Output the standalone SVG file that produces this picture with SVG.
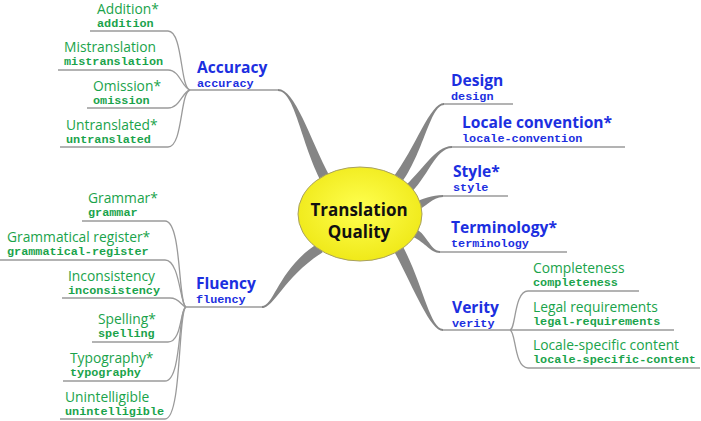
<svg xmlns="http://www.w3.org/2000/svg" width="701" height="421" viewBox="0 0 701 421">
<defs>
<radialGradient id="yg" cx="0.5" cy="0.45" r="0.6">
<stop offset="0" stop-color="#ffff50"/>
<stop offset="1" stop-color="#eee714"/>
</radialGradient>
<style>
.thin{fill:none;stroke:#9a9a9a;stroke-width:1.3}
.thick{fill:#858585;stroke:none}
.b{font-family:"Open Sans",sans-serif;font-weight:bold;font-size:15.6px;fill:#1c2fe0}
.g{font-family:"Open Sans",sans-serif;font-size:13.8px;fill:#1aa34b}
.bm{font-family:"Liberation Mono","Courier New",monospace;font-weight:bold;font-size:11.8px;fill:#1c2fe0}
.gm{font-family:"Liberation Mono","Courier New",monospace;font-weight:bold;font-size:11.8px;fill:#1aa34b}
.c{font-family:"Open Sans",sans-serif;font-weight:bold;font-size:17px;fill:#111;text-anchor:middle}
</style>
</defs>
<rect width="701" height="421" fill="#fff"/>
<g id="connectors">
<path class="thin" d="M 190 90 L 278 90"/>
<path class="thin" d="M 90 31 L 168 31 C 183 31 180 88 190 90"/>
<path class="thin" d="M 58 70 L 168 70 C 180 70 182 88 190 90"/>
<path class="thin" d="M 87 108 L 168 108 C 180 108 182 92 190 90"/>
<path class="thin" d="M 60 147 L 168 147 C 183 147 180 92 190 90"/>
<path class="thin" d="M 186 307 L 264 307"/>
<path class="thin" d="M 82 221 L 165 221 C 182 221 178 305 186 307"/>
<path class="thin" d="M 0 260 L 165 260 C 180 260 180 305 186 307"/>
<path class="thin" d="M 62 298 L 170 298 C 180 298 181 306 186 307"/>
<path class="thin" d="M 92 342 L 168 342 C 182 342 180 309 186 307"/>
<path class="thin" d="M 63 381 L 165 381 C 182 381 178 309 186 307"/>
<path class="thin" d="M 60 419 L 165 419 C 182 419 178 309 186 307"/>
<path class="thin" d="M 443 104 L 513 104"/>
<path class="thin" d="M 452 147 L 625 147"/>
<path class="thin" d="M 443 196 L 508 196"/>
<path class="thin" d="M 440 252 L 567 252"/>
<path class="thin" d="M 443 330 L 674 330"/>
<path class="thin" d="M 510 330 C 516 329 514 291 528 291 L 639 291"/>
<path class="thin" d="M 510 330 C 516 331 514 368 528 368 L 700 368"/>
<path class="thick" d="M 278 89 C 295 89 309.4 137.7 330.4 177.7 L 321.6 182.3 C 300.6 142.3 295 91 278 91 Z"/>
<path class="thick" d="M 262 306 C 274 306 279.3 267.8 317.3 243.8 L 322.7 252.2 C 284.7 276.2 274 308 262 308 Z"/>
<path class="thick" d="M 444 103 C 430 103 416 147 392 179 L 400 185 C 424 153 430 105 444 105 Z"/>
<path class="thick" d="M 452 146 C 435 146 422.1 171.6 402.1 188.6 L 407.9 195.4 C 427.9 178.4 435 148 452 148 Z"/>
<path class="thick" d="M 443 195 C 432 195 423.4 198.8 410.4 203.8 L 413.6 212.2 C 426.6 207.2 432 197 443 197 Z"/>
<path class="thick" d="M 440 251 C 430 251 426.3 231.7 413.3 227.7 L 410.7 236.3 C 423.7 240.3 430 253 440 253 Z"/>
<path class="thick" d="M 443 329 C 430 329 422.4 282.6 402.4 245.6 L 393.6 250.4 C 413.6 287.4 430 331 443 331 Z"/>
</g>
<g id="center">
<ellipse cx="360" cy="214" rx="62" ry="47" fill="url(#yg)" stroke="#a8a060" stroke-width="1"/>
<text class="c" x="359" y="216">Translation</text>
<text class="c" x="359" y="238">Quality</text>
</g>
<g id="accuracy"><text class="b" x="197" y="73">Accuracy</text><text class="bm" x="197" y="87">accuracy</text></g>
<g id="addition"><text class="g" x="97" y="14">Addition*</text><text class="gm" x="97" y="27">addition</text></g>
<g id="mistranslation"><text class="g" x="64" y="52">Mistranslation</text><text class="gm" x="64" y="65">mistranslation</text></g>
<g id="omission"><text class="g" x="93" y="91">Omission*</text><text class="gm" x="93" y="104">omission</text></g>
<g id="untranslated"><text class="g" x="66" y="130">Untranslated*</text><text class="gm" x="66" y="143">untranslated</text></g>
<g id="fluency"><text class="b" x="196" y="289">Fluency</text><text class="bm" x="196" y="303">fluency</text></g>
<g id="grammar"><text class="g" x="88" y="203">Grammar*</text><text class="gm" x="88" y="216">grammar</text></g>
<g id="grammatical-register"><text class="g" x="7" y="242">Grammatical register*</text><text class="gm" x="7" y="255">grammatical-register</text></g>
<g id="inconsistency"><text class="g" x="68" y="281">Inconsistency</text><text class="gm" x="68" y="294">inconsistency</text></g>
<g id="spelling"><text class="g" x="98" y="324">Spelling*</text><text class="gm" x="98" y="337">spelling</text></g>
<g id="typography"><text class="g" x="70" y="363">Typography*</text><text class="gm" x="70" y="376">typography</text></g>
<g id="unintelligible"><text class="g" x="65" y="402">Unintelligible</text><text class="gm" x="65" y="415">unintelligible</text></g>
<g id="design"><text class="b" x="451" y="86">Design</text><text class="bm" x="451" y="100">design</text></g>
<g id="locale-convention"><text class="b" x="462" y="128">Locale convention*</text><text class="bm" x="462" y="142">locale-convention</text></g>
<g id="style"><text class="b" x="453" y="177">Style*</text><text class="bm" x="453" y="191">style</text></g>
<g id="terminology"><text class="b" x="451" y="233">Terminology*</text><text class="bm" x="451" y="247">terminology</text></g>
<g id="verity"><text class="b" x="452" y="313">Verity</text><text class="bm" x="452" y="327">verity</text></g>
<g id="completeness"><text class="g" x="533" y="273">Completeness</text><text class="gm" x="533" y="286">completeness</text></g>
<g id="legal-requirements"><text class="g" x="533" y="312">Legal requirements</text><text class="gm" x="533" y="325">legal-requirements</text></g>
<g id="locale-specific-content"><text class="g" x="533" y="350">Locale-specific content</text><text class="gm" x="533" y="363">locale-specific-content</text></g>
</svg>
